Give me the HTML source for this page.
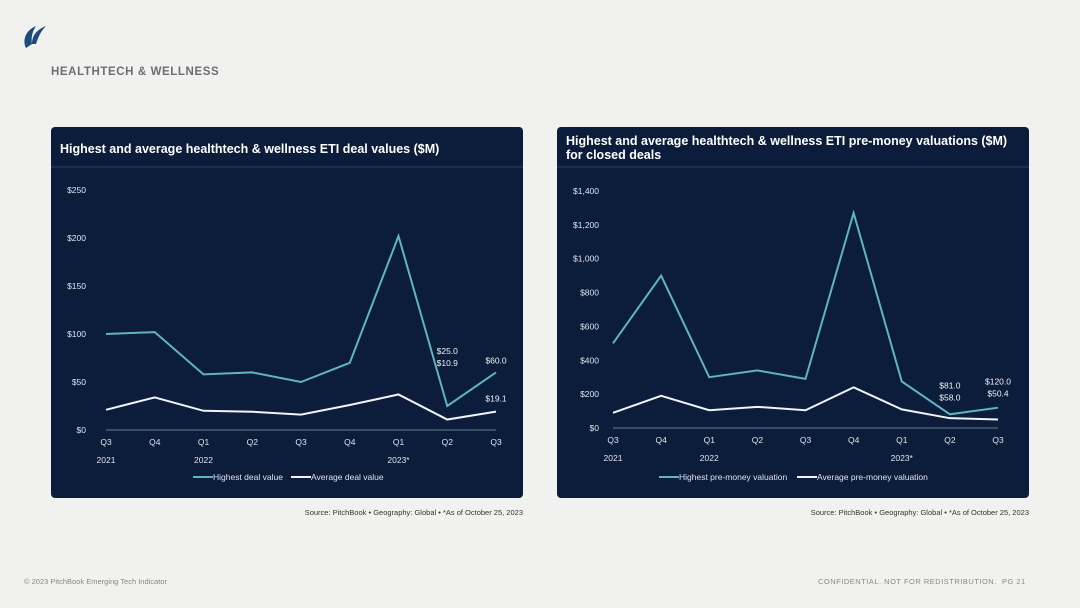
<!DOCTYPE html>
<html><head><meta charset="utf-8">
<style>
body{margin:0;width:1080px;height:608px;background:#f1f1ef;font-family:"Liberation Sans","Noto Sans CJK SC",sans-serif;position:relative;overflow:hidden}
.abs{position:absolute}
.panel{position:absolute;background:#0b1d3b;border-radius:4px}
.src{position:absolute;font-size:7.5px;color:#333;text-align:right}
</style></head><body>
<svg class="abs" style="left:20px;top:22px" width="28" height="28" viewBox="0 0 28 28">
<path d="M6 26 C2 18 6 8 16 4 C12 10 11 16 12 22 Z" fill="#1e4a7c"/>
<path d="M12 22 C12 14 16 8 26 4 C20 10 18 16 16 22 Z" fill="#1e4a7c"/>
</svg>
<div class="abs" style="left:51px;top:66px;font-size:11.5px;font-weight:bold;color:#6b6f74;letter-spacing:0.6px">HEALTHTECH &amp; WELLNESS</div>

<div class="panel" style="left:51px;top:127px;width:472px;height:371px"></div>
<div class="panel" style="left:557px;top:127px;width:472px;height:371px"></div>

<svg id="svg" class="abs" style="left:0;top:0" width="1080" height="608"></svg>

<div class="src" style="left:200px;width:323px;top:508px">Source: PitchBook • Geography: Global • *As of October 25, 2023</div>
<div class="src" style="left:706px;width:323px;top:508px">Source: PitchBook • Geography: Global • *As of October 25, 2023</div>
<div class="abs" style="left:24px;top:577px;font-size:7.5px;color:#888">© 2023 PitchBook Emerging Tech Indicator</div>
<div class="abs" style="left:818px;top:577px;font-size:7.5px;color:#888;letter-spacing:0.5px">CONFIDENTIAL. NOT FOR REDISTRIBUTION.&nbsp; PG 21</div>

<script>
const quarters=["Q3","Q4","Q1","Q2","Q3","Q4","Q1","Q2","Q3"];
const years=["2021","","2022","","","","2023*","",""];
const dealHighest=[100,102,58,60,50,70,202,25,60];
const dealAverage=[21,34,20,19,16,26,37,10.9,19.1];
const dealTicks=[0,50,100,150,200,250];
const valHighest=[500,900,300,340,290,1270,275,81,120];
const valAverage=[90,190,105,125,105,240,110,58,50.4];
const valTicks=[0,200,400,600,800,1000,1200,1400];

const svg=document.getElementById('svg');
const NS='http://www.w3.org/2000/svg';
function mk(tag,attrs,txt){const e=document.createElementNS(NS,tag);for(const k in attrs)e.setAttribute(k,attrs[k]);if(txt!==undefined)e.textContent=txt;svg.appendChild(e);return e;}
function fmt(v){return '$'+v.toLocaleString('en-US');}

function chart(o){
  const x=i=>o.x0+i*(o.x1-o.x0)/(quarters.length-1);
  const y=v=>o.y0-(v/o.max)*(o.y0-o.y1);
  o.title.forEach((t,i)=>{const e=mk('text',{x:o.px+9,y:o.ty+i*14,fill:'#fff','font-size':12.5,'font-weight':'bold','font-family':'Liberation Sans, sans-serif'},t);

});
  const sep=mk('line',{x1:o.px,x2:o.px+472,y1:167,y2:167,stroke:'#2b3d5a','stroke-width':1});
  
  
  o.ticks.forEach(t=>{const e=mk('text',{x:o.lx,y:y(t)+3,fill:'#dde4ee','font-size':8.5,'text-anchor':'end'},fmt(t));

});
  const ax=mk('line',{x1:o.x0,x2:o.x1,y1:y(0),y2:y(0),stroke:'#8d9ab0','stroke-width':0.8});
  
  
  quarters.forEach((q,i)=>{const e=mk('text',{x:x(i),y:o.y0+15,fill:'#dde4ee','font-size':8.5,'text-anchor':'middle'},q);


if(years[i]){const yl=mk('text',{x:x(i),y:o.y0+33,fill:'#dde4ee','font-size':8.5,'text-anchor':'middle'},years[i]);

}});
  [[o.hi,'#5fb4bf','highest-line'],[o.av,'#f0f3f7','average-line']].forEach(([d,c,n])=>{
    const p=mk('polyline',{points:d.map((v,i)=>x(i)+','+y(v)).join(' '),fill:'none',stroke:c,'stroke-width':2,'stroke-linejoin':'miter'});
    
    
  });
  o.labels.forEach(l=>{const e=mk('text',{x:x(l.i)+(l.dx||0),y:y(l.v)+l.dy,fill:'#eef2f6','font-size':8.5,'text-anchor':'middle'},l.t);

});
  o.legend.forEach((lg,k)=>{
    const l=mk('line',{x1:lg.x,x2:lg.x+20,y1:477,y2:477,stroke:k?'#f0f3f7':'#5fb4bf','stroke-width':2});
    
    
    const t=mk('text',{x:lg.x+20,y:480,fill:'#dde4ee','font-size':8.5},lg.t);
    
    
  });
}
chart({px:51,ty:153,title:['Highest and average healthtech & wellness ETI deal values ($M)'],x0:106,x1:496,y0:430,y1:190,max:250,lx:86,ticks:dealTicks,hi:dealHighest,av:dealAverage,
 labels:[{i:7,v:dealHighest[7],dy:-52,t:'$25.0'},{i:7,v:dealHighest[7],dy:-40,t:'$10.9'},{i:8,v:dealHighest[8],dy:-9,t:'$60.0'},{i:8,v:dealAverage[8],dy:-10,t:'$19.1'}],
 legend:[{x:193,t:'Highest deal value'},{x:291,t:'Average deal value'}]});
chart({px:557,ty:145,title:['Highest and average healthtech & wellness ETI pre-money valuations ($M)','for closed deals'],x0:613,x1:998,y0:428,y1:191,max:1400,lx:599,ticks:valTicks,hi:valHighest,av:valAverage,
 labels:[{i:7,v:valHighest[7],dy:-26,t:'$81.0'},{i:7,v:valHighest[7],dy:-14,t:'$58.0'},{i:8,v:valHighest[8],dy:-23,t:'$120.0'},{i:8,v:valHighest[8],dy:-11,t:'$50.4'}],
 legend:[{x:659,t:'Highest pre-money valuation'},{x:797,t:'Average pre-money valuation'}]});
</script>
</body></html>
